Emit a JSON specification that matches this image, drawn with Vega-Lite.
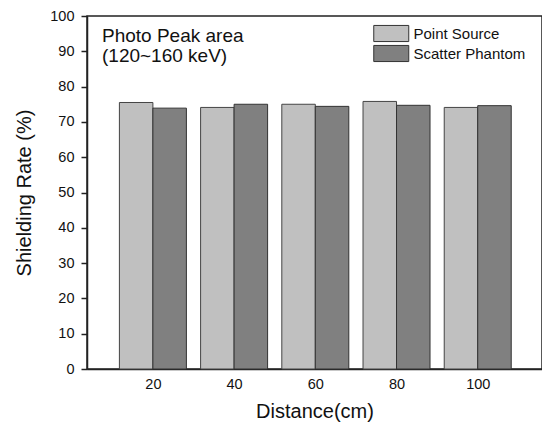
{
  "$schema": "https://vega.github.io/schema/vega-lite/v6.json",
  "width": 455,
  "height": 353,
  "autosize": {"type": "none"},
  "padding": {"left": 87, "top": 16, "right": 0, "bottom": 54},
  "background": "white",
  "config": {
    "font": "Liberation Sans",
    "view": {"stroke": "#222222", "strokeWidth": 1.5}
  },
  "title": {
    "text": ["Photo Peak area", "(120~160 keV)"],
    "anchor": "start",
    "frame": "group",
    "orient": "top",
    "dx": 15,
    "dy": 62,
    "fontSize": 19,
    "fontWeight": "normal",
    "lineHeight": 20,
    "color": "#111111"
  },
  "data": {
    "values": [
      {"distance": 20, "series": "Point Source", "rate": 75.5},
      {"distance": 20, "series": "Scatter Phantom", "rate": 73.9},
      {"distance": 40, "series": "Point Source", "rate": 74.1},
      {"distance": 40, "series": "Scatter Phantom", "rate": 75.0},
      {"distance": 60, "series": "Point Source", "rate": 75.0},
      {"distance": 60, "series": "Scatter Phantom", "rate": 74.4},
      {"distance": 80, "series": "Point Source", "rate": 75.8},
      {"distance": 80, "series": "Scatter Phantom", "rate": 74.7},
      {"distance": 100, "series": "Point Source", "rate": 74.1},
      {"distance": 100, "series": "Scatter Phantom", "rate": 74.6}
    ]
  },
  "encoding": {
    "x": {
      "field": "distance",
      "type": "quantitative",
      "scale": {"domain": [5, 114.6], "nice": false, "zero": false},
      "axis": {
        "values": [20, 40, 60, 80, 100],
        "ticks": false,
        "grid": false,
        "domainColor": "#222222",
        "domainWidth": 1.5,
        "labelFontSize": 14.5,
        "labelColor": "#111111",
        "labelPadding": 8,
        "title": "Distance(cm)",
        "titleFontSize": 20,
        "titleFontWeight": "normal",
        "titleColor": "#111111",
        "titlePadding": 11
      }
    },
    "y": {
      "field": "rate",
      "type": "quantitative",
      "scale": {"domain": [0, 100], "nice": false},
      "axis": {
        "values": [0, 10, 20, 30, 40, 50, 60, 70, 80, 90, 100],
        "grid": false,
        "tickSize": 6,
        "tickColor": "#222222",
        "tickWidth": 1.5,
        "domainColor": "#222222",
        "domainWidth": 1.5,
        "labelFontSize": 14.5,
        "labelColor": "#111111",
        "labelPadding": 7,
        "title": "Shielding Rate (%)",
        "titleFontSize": 20,
        "titleFontWeight": "normal",
        "titleColor": "#111111",
        "titlePadding": 15
      }
    },
    "color": {
      "field": "series",
      "type": "nominal",
      "scale": {"domain": ["Point Source", "Scatter Phantom"], "range": ["#c0c0c0", "#808080"]},
      "legend": {
        "title": null,
        "orient": "none",
        "legendX": 294.75,
        "legendY": 8,
        "padding": 0,
        "rowPadding": -4,
        "symbolType": "M-2,-0.92H2V0.92H-2Z",
        "symbolSize": 306.25,
        "symbolStrokeColor": "#333333",
        "symbolStrokeWidth": 1,
        "symbolOpacity": 1,
        "labelFontSize": 15,
        "labelColor": "#111111",
        "labelOffset": 12.75
      }
    }
  },
  "layer": [
    {
      "transform": [{"filter": "datum.series === 'Point Source'"}],
      "mark": {"type": "bar", "width": 33.5, "xOffset": -16.75, "stroke": "#444444", "strokeWidth": 1, "opacity": 1}
    },
    {
      "transform": [{"filter": "datum.series === 'Scatter Phantom'"}],
      "mark": {"type": "bar", "width": 33.5, "xOffset": 16.75, "stroke": "#333333", "strokeWidth": 1, "opacity": 1}
    }
  ]
}
